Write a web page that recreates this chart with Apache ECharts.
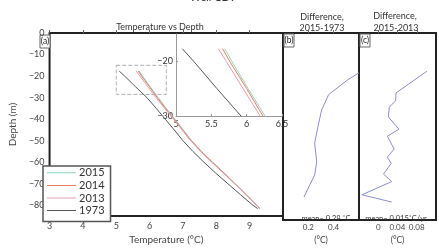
<!DOCTYPE html>
<html>
<head>
<meta charset="utf-8">
<script src="https://cdn.jsdelivr.net/npm/echarts@6/dist/echarts.min.js"></script>
<style>
  html, body { margin: 0; padding: 0; background: #fff; }
  #chart { width: 439px; height: 250px; }
</style>
</head>
<body>
<div id="chart"></div>
<script>
// depth profiles (m) and temperatures (°C)
var depths = [-17.7, -20, -25, -30, -35, -40, -45, -50, -55, -60, -65, -70, -75, -80, -81.5];
var t2015 = [5.69, 5.79, 6.02, 6.26, 6.50, 6.76, 7.01, 7.26, 7.56, 7.89, 8.24, 8.57, 8.90, 9.22, 9.31];
var t2014 = [5.66, 5.76, 6.00, 6.23, 6.48, 6.74, 6.99, 7.25, 7.55, 7.88, 8.23, 8.56, 8.89, 9.21, 9.30];
var t2013 = [5.60, 5.71, 5.95, 6.19, 6.45, 6.72, 6.97, 7.23, 7.53, 7.86, 8.21, 8.55, 8.88, 9.20, 9.29];
var t1973 = [5.09, 5.25, 5.58, 5.92, 6.20, 6.47, 6.74, 7.00, 7.30, 7.63, 7.98, 8.35, 8.72, 9.10, 9.24];

// difference 2015-1973 (°C)
var diffBDepths = [-18.1, -21.3, -28, -35, -42.5, -50, -58.6, -64.5, -68.8, -74.5];
var diffB = [0.60, 0.51, 0.36, 0.305, 0.276, 0.25, 0.266, 0.25, 0.213, 0.166];

// difference 2015-2013 (°C/yr)
var diffCDepths = [-17.4, -27.2, -30.8, -33.7, -38.1, -43.7, -46.9, -52.7, -56.4, -59.2, -64.1, -67.5, -73.5, -76.8];
var diffC = [0.101, 0.037, 0.036, 0.023, 0.021, 0.043, 0.019, 0.033, 0.019, 0.027, 0.011, 0.028, -0.034, 0.028];

var years = ['2015', '2014', '2013', '1973'];
var temps = [t2015, t2014, t2013, t1973];
var colors = ['#8fd3bf', '#e08060', '#e79bb0', '#555555'];
var depthTicks = [0, -10, -20, -30, -40, -50, -60, -70, -80];
var zoomBox = [[5, -15], [6.5, -28.5]];

function pairs(xs, ys) {
    return ys.map(function(y, i) { return [xs[i], y]; });
}

var myChart = echarts.init(document.getElementById('chart'));
var font = 'Lato';
var lab = { color: '#444', fontSize: 9, fontFamily: font };
var lineIcon = 'path://M0,0L30,0L30,0Z M0,5.5L30,5.5L30,6.5L0,6.5Z M0,12L30,12L30,12Z';

var series = [];
years.forEach(function(y, k) {
    var s = {
        name: y, type: 'line', xAxisIndex: 0, yAxisIndex: 0,
        symbol: 'none', data: pairs(temps[k], depths),
        lineStyle: { width: 1, color: colors[k] }, itemStyle: { color: colors[k] }
    };
    if (y === '1973') {
        s.markArea = {
            silent: true,
            itemStyle: { color: 'rgba(0,0,0,0)', borderColor: '#b0b0b0', borderWidth: 1, borderType: 'dashed' },
            data: [[{ coord: zoomBox[0] }, { coord: zoomBox[1] }]]
        };
    }
    series.push(s);
    series.push({
        name: y, type: 'line', xAxisIndex: 1, yAxisIndex: 1,
        symbol: 'none', clip: true, data: pairs(temps[k], depths),
        lineStyle: { width: 1, color: colors[k] }, itemStyle: { color: colors[k] }
    });
});
series.push({
    type: 'line', xAxisIndex: 2, yAxisIndex: 2, symbol: 'none',
    data: pairs(diffB, diffBDepths), lineStyle: { width: 1, color: '#8c8cd0' }
});
series.push({
    type: 'line', xAxisIndex: 3, yAxisIndex: 3, symbol: 'none',
    data: pairs(diffC, diffCDepths), lineStyle: { width: 1, color: '#8c8cd0' }
});

var frame = { show: true, borderColor: '#222', borderWidth: 2 };
var inTick = { inside: true, length: 3, lineStyle: { color: '#666' } };

option = {
    animation: false,
    textStyle: { fontFamily: font },
    grid: [
        Object.assign({ left: 39, top: 33, width: 244, height: 194 }, frame),
        { left: 176, top: 34, width: 106, height: 82 },
        Object.assign({ left: 283, top: 33, width: 76, height: 194 }, frame),
        Object.assign({ left: 359, top: 33, width: 77, height: 194 }, frame)
    ],
    xAxis: [
        { gridIndex: 0, type: 'value', min: 3, max: 10, interval: 1, splitLine: { show: false },
          axisLine: { show: false }, axisTick: inTick,
          axisLabel: Object.assign({ showMaxLabel: false, margin: 5 }, lab),
          name: 'Temperature (°C)', nameLocation: 'middle', nameGap: 14,
          nameTextStyle: { color: '#444', fontSize: 10, fontFamily: font } },
        { gridIndex: 1, type: 'value', min: 5, max: 6.5, interval: 0.5, splitLine: { show: false },
          axisLine: { show: true, lineStyle: { color: '#999' } }, axisTick: { inside: true, length: 2, lineStyle: { color: '#999' } },
          axisLabel: Object.assign({ margin: 4 }, lab, { color: '#333' }) },
        { gridIndex: 2, type: 'value', min: 0, max: 0.6, interval: 0.2, splitLine: { show: false },
          axisLine: { show: false }, axisTick: inTick,
          axisLabel: Object.assign({ showMinLabel: false, showMaxLabel: false, margin: 3 }, lab, { fontSize: 8 }),
          name: '(°C)', nameLocation: 'middle', nameGap: 12,
          nameTextStyle: { color: '#444', fontSize: 8.5, fontFamily: font } },
        { gridIndex: 3, type: 'value', min: -0.04, max: 0.12, interval: 0.04, splitLine: { show: false },
          axisLine: { show: false }, axisTick: inTick,
          axisLabel: Object.assign({ showMinLabel: false, showMaxLabel: false, margin: 3,
              formatter: function(v) { return Math.abs(v) < 1e-9 ? '0' : +v.toFixed(2) + ''; } }, lab, { fontSize: 8 }),
          name: '(°C)', nameLocation: 'middle', nameGap: 12,
          nameTextStyle: { color: '#444', fontSize: 8.5, fontFamily: font } }
    ],
    yAxis: [
        { gridIndex: 0, type: 'value', min: -85, max: 0, splitLine: { show: false },
          axisLine: { show: false }, axisTick: { show: false },
          axisLabel: Object.assign({ margin: 5, customValues: depthTicks }, lab,
              { formatter: function(v) { return v < 0 ? '\u2212' + (-v) : '0'; } }),
          name: 'Depth (m)', nameLocation: 'middle', nameGap: 24,
          nameTextStyle: { color: '#444', fontSize: 10, fontFamily: font } },
        { gridIndex: 1, type: 'value', min: -30, max: -15, interval: 10, splitLine: { show: false },
          axisLine: { show: true, lineStyle: { color: '#999' } }, axisTick: { inside: true, length: 2, lineStyle: { color: '#999' } },
          axisLabel: Object.assign({ showMaxLabel: false, margin: 3 }, lab,
              { color: '#333', formatter: function(v) { return '\u2212' + (-v); } }) },
        { gridIndex: 2, type: 'value', min: -85, max: 0, splitLine: { show: false },
          axisLine: { show: false }, axisTick: { show: false }, axisLabel: { show: false } },
        { gridIndex: 3, type: 'value', min: -85, max: 0, splitLine: { show: false },
          axisLine: { show: false }, axisTick: { show: false }, axisLabel: { show: false } }
    ],
    legend: {
        data: years, orient: 'vertical', left: 43, top: 166, icon: lineIcon,
        itemWidth: 29, itemHeight: 12, itemGap: 1,
        padding: [1, 6, 5, 4], borderColor: '#555', borderWidth: 1.5, backgroundColor: '#fff',
        textStyle: { fontSize: 11, color: '#333', fontFamily: font, padding: [0, 0, 0, -2] }
    },
    graphic: [
        { type: 'text', style: { text: 'Well CD9', x: 213, y: 3, textAlign: 'center', textVerticalAlign: 'bottom', fontSize: 11, fill: '#333', fontFamily: font } },
        { type: 'text', style: { text: 'Temperature vs Depth', x: 160, y: 27, textAlign: 'center', textVerticalAlign: 'middle', fontSize: 9, fill: '#333', fontFamily: font } },
        { type: 'text', style: { text: 'Difference,', x: 322, y: 17, textAlign: 'center', textVerticalAlign: 'middle', fontSize: 9, fill: '#333', fontFamily: font } },
        { type: 'text', style: { text: '2015-1973', x: 322, y: 28.5, textAlign: 'center', textVerticalAlign: 'middle', fontSize: 9, fill: '#333', fontFamily: font } },
        { type: 'text', style: { text: 'Difference,', x: 395, y: 16, textAlign: 'center', textVerticalAlign: 'middle', fontSize: 9, fill: '#333', fontFamily: font } },
        { type: 'text', style: { text: '2015-2013', x: 396, y: 28.5, textAlign: 'center', textVerticalAlign: 'middle', fontSize: 9, fill: '#333', fontFamily: font } },
        { type: 'text', style: { text: 'mean= 0.28 \u02daC', x: 326, y: 219, textAlign: 'center', textVerticalAlign: 'middle', fontSize: 7.5, fill: '#333', fontFamily: font } },
        { type: 'text', style: { text: 'mean= 0.015\u02daC/yr', x: 396, y: 219, textAlign: 'center', textVerticalAlign: 'middle', fontSize: 7.5, fill: '#333', fontFamily: font } },
        { type: 'rect', shape: { x: 40, y: 35, width: 10, height: 13 }, style: { fill: '#fff', stroke: '#666', lineWidth: 1 } },
        { type: 'text', style: { text: '(a)', x: 45, y: 41.5, textAlign: 'center', textVerticalAlign: 'middle', fontSize: 8.5, fill: '#222', fontFamily: font } },
        { type: 'rect', shape: { x: 284, y: 34, width: 10, height: 13 }, style: { fill: '#fff', stroke: '#666', lineWidth: 1 } },
        { type: 'text', style: { text: '(b)', x: 289, y: 40.5, textAlign: 'center', textVerticalAlign: 'middle', fontSize: 8.5, fill: '#222', fontFamily: font } },
        { type: 'rect', shape: { x: 360, y: 34, width: 10, height: 13 }, style: { fill: '#fff', stroke: '#666', lineWidth: 1 } },
        { type: 'text', style: { text: '(c)', x: 365, y: 40.5, textAlign: 'center', textVerticalAlign: 'middle', fontSize: 8.5, fill: '#222', fontFamily: font } }
    ],
    series: series
};

option && myChart.setOption(option);
</script>
</body>
</html>
